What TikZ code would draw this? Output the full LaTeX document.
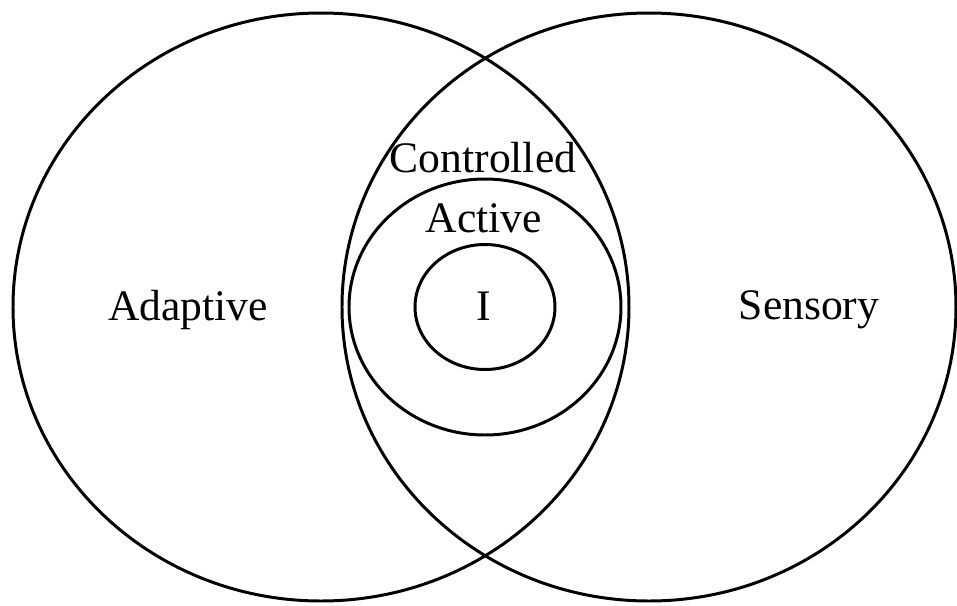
\documentclass[tikz,border=0pt]{standalone}
\usepackage{fontspec}
\setmainfont{Liberation Serif}
\tikzset{
  ring/.style={line width=0.85pt},
  lbl/.style={anchor=base, inner sep=0pt, font=\fontsize{12.4}{14}\selectfont}
}
\begin{document}
\begin{tikzpicture}
    \useasboundingbox (0,0) rectangle (9.57,6.05);
    % Two big overlapping ellipses
    \draw[ring] (3.21,2.98) ellipse (3.08 and 2.94);
    \draw[ring] (6.49,2.98) ellipse (3.07 and 2.94);
    % Nested ellipses in the middle
    \draw[ring] (4.85,2.98) ellipse (1.36 and 1.28);
    \draw[ring] (4.85,2.98) ellipse (0.70 and 0.625);
    % Labels
    \node[lbl] (adaptive) at (1.88,2.85) {Adaptive};
    \node[lbl] (sensory) at (8.09,2.86) {Sensory};
    \node[lbl] (controlled) at (4.83,4.33) {Controlled};
    \node[lbl] (active) at (4.84,3.73) {Active};
    \node[lbl] (inner) at (4.84,2.85) {I};
\end{tikzpicture}
\end{document}
